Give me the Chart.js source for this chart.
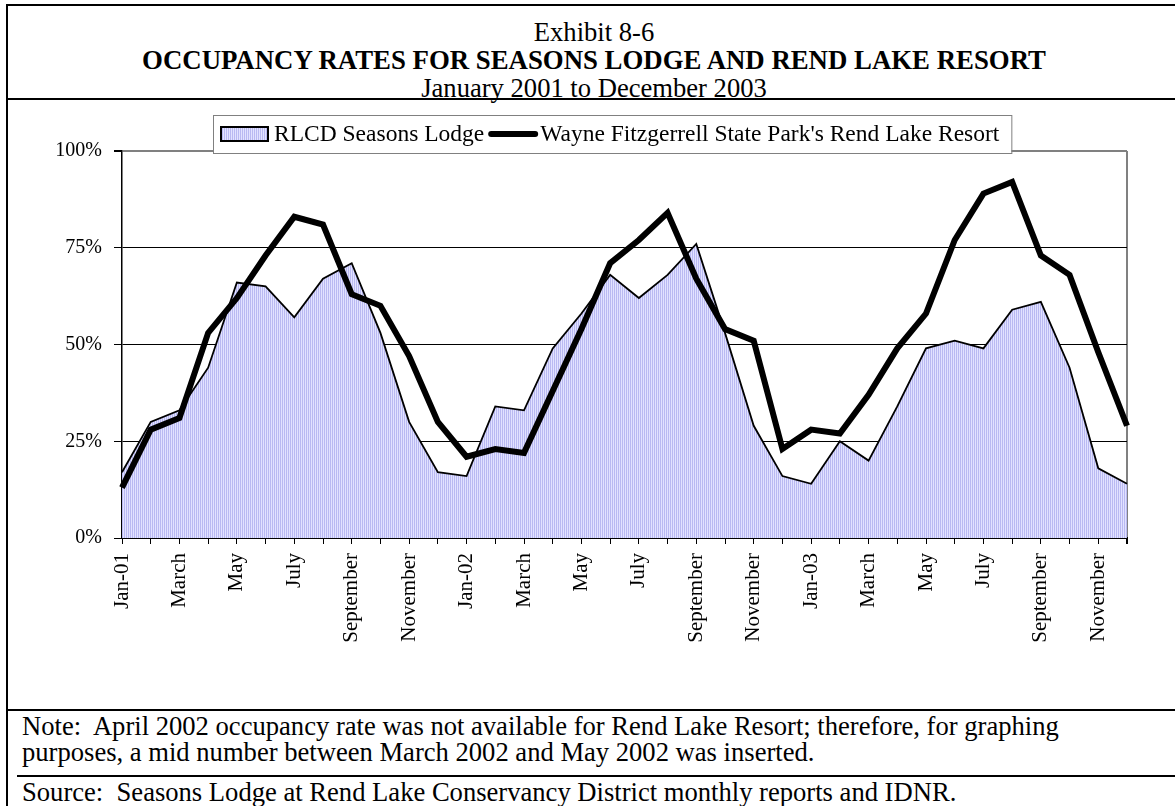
<!DOCTYPE html>
<html>
<head>
<meta charset="UTF-8">
<title>Exhibit 8-6</title>
<script src="https://cdn.jsdelivr.net/npm/chart.js"></script>
<style>
	html, body { margin: 0; padding: 0; width: 1175px; height: 806px; overflow: hidden; background: #fff; }
	body { position: relative; font-family: 'Liberation Serif', 'Times New Roman', serif; color: #000; }
	#frame { position: absolute; left: 6px; top: 4px; width: 1200px; height: 830px; border-top: 2px solid #000; border-left: 2px solid #000; }
	.rule { position: absolute; height: 2px; background: #000; width: 1200px; }
	#head { position: absolute; left: 8px; width: 1172px; top: 18px; text-align: center; font-size: 26.6px; line-height: 28px; }
	#head b { font-size: 26.8px; }
	#note, #source { position: absolute; left: 22px; font-size: 26.6px; line-height: 26px; white-space: pre; }
	#chartBox { position: absolute; left: 0; top: 100px; width: 1175px; height: 609px; }
</style>
</head>
<body>
	<div id="frame"></div>
	<div id="head">Exhibit 8-6<br><b>OCCUPANCY RATES FOR SEASONS LODGE AND REND LAKE RESORT</b><br>January 2001 to December 2003</div>
	<div class="rule" style="left:6px; top:98px;"></div>

	<div id="chartBox"><canvas id="occChart" width="1175" height="609"></canvas></div>

	<div class="rule" style="left:6px; top:709px;"></div>
	<div id="note" style="top:713px;">Note:  April 2002 occupancy rate was not available for Rend Lake Resort; therefore, for graphing
purposes, a mid number between March 2002 and May 2002 was inserted.</div>
	<div class="rule" style="left:17px; top:775px;"></div>
	<div id="source" style="top:779px;">Source:  Seasons Lodge at Rend Lake Conservancy District monthly reports and IDNR.</div>

	<script>
		// 월별 카테고리 (라벨은 격월로만 표시)
		const months = [
			'Jan-01', 'February', 'March', 'April', 'May', 'June', 'July', 'August', 'September', 'October', 'November', 'December',
			'Jan-02', 'February', 'March', 'April', 'May', 'June', 'July', 'August', 'September', 'October', 'November', 'December',
			'Jan-03', 'February', 'March', 'April', 'May', 'June', 'July', 'August', 'September', 'October', 'November', 'December'
		];

		// RLCD Seasons Lodge (%)
		const lodgeRates = [
			17, 30, 33, 44, 66, 65, 57, 67, 71, 53, 30, 17,
			16, 34, 33, 49, 58, 68, 62, 68, 76, 53, 29, 16,
			14, 25, 20, 34, 49, 51, 49, 59, 61, 44, 18, 14
		];

		// Wayne Fitzgerrell State Park's Rend Lake Resort (%)
		const resortRates = [
			13, 28, 31, 53, 62, 73, 83, 81, 63, 60, 47, 30,
			21, 23, 22, 38, 54, 71, 77, 84, 67, 54, 51, 23,
			28, 27, 37, 49, 58, 77, 89, 92, 73, 68, 48, 29
		];

		const yTicks = [0, 25, 50, 75, 100];

		const serif = "'Liberation Serif', 'Times New Roman', serif";
		const legendFont = '23.5px ' + serif;

		// 세로 줄무늬 패턴 (엑셀 영역 채우기 느낌)
		function makeStripes(){
			const c = document.createElement('canvas');
			c.width = 2; c.height = 4;
			const p = c.getContext('2d');
			p.fillStyle = '#b9b9f2';
			p.fillRect(0, 0, 1, 4);
			p.fillStyle = '#e2e2ff';
			p.fillRect(1, 0, 1, 4);
			return p.createPattern(c, 'repeat');
		}
		const stripes = makeStripes();

		// 테두리 있는 범례를 직접 그림
		const boxLegend = {
			id: 'boxLegend',
			afterDraw(chart){
				const ctx = chart.ctx;
				const sets = chart.data.datasets;
				ctx.save();
				ctx.font = legendFont;
				const t1 = ctx.measureText(sets[0].label).width;
				const t2 = ctx.measureText(sets[1].label).width;
				const x0 = 213, y0 = 15, h = 38;
				const w = 8 + 47 + 6 + t1 + 4 + 50 + 2 + t2 + 12;
				const cy = y0 + h / 2;

				ctx.fillStyle = '#fff';
				ctx.fillRect(x0, y0, w, h);
				ctx.strokeStyle = '#808080';
				ctx.lineWidth = 1;
				ctx.strokeRect(x0 + 0.5, y0 + 0.5, w, h);

				// 영역 견본
				let x = x0 + 8;
				ctx.fillStyle = stripes;
				ctx.fillRect(x, cy - 7, 47, 14);
				ctx.strokeStyle = '#000';
				ctx.lineWidth = 2;
				ctx.strokeRect(x, cy - 7, 47, 14);
				x += 47 + 6;

				ctx.font = legendFont;
				ctx.fillStyle = '#000';
				ctx.textAlign = 'left';
				ctx.textBaseline = 'middle';
				ctx.fillText(sets[0].label, x, cy + 1);
				x += t1 + 4;

				// 선 견본
				ctx.lineWidth = 6;
				ctx.lineCap = 'round';
				ctx.beginPath();
				ctx.moveTo(x + 3, cy);
				ctx.lineTo(x + 47, cy);
				ctx.stroke();
				x += 50 + 2;

				ctx.font = legendFont;
				ctx.fillText(sets[1].label, x, cy + 1);
				ctx.restore();
			}
		};

		const ctx = document.getElementById('occChart').getContext('2d');
		new Chart(ctx, {
			type: 'line',
			data: {
				labels: months,
				datasets: [
					{
						label: 'RLCD Seasons Lodge',
						data: lodgeRates,
						borderColor: '#000',
						borderWidth: 1.8,
						backgroundColor: stripes,
						fill: 'origin',
						pointRadius: 0,
						tension: 0,
						order: 1
					},
					{
						label: "Wayne Fitzgerrell State Park's Rend Lake Resort",
						data: resortRates,
						borderColor: '#000',
						borderWidth: 6,
						fill: false,
						pointRadius: 0,
						tension: 0,
						order: 0
					}
				]
			},
			options: {
				responsive: false,
				devicePixelRatio: 1,
				animation: false,
				layout: { padding: { top: 51, right: 48, left: 0, bottom: 0 } },
				plugins: {
					legend: { display: false },
					tooltip: { enabled: false }
				},
				scales: {
					x: {
						afterFit(scale){ scale.height = 171; },
						grid: {
							drawOnChartArea: true,
							color: (c) => c.index === months.length - 1 ? '#808080' : 'rgba(0,0,0,0)',
							lineWidth: (c) => c.index === months.length - 1 ? 2 : 1,
							tickColor: '#000',
							tickLength: 6
						},
						border: { color: '#000', width: 2 },
						ticks: {
							autoSkip: false,
							maxRotation: 90,
							minRotation: 90,
							padding: 9,
							color: '#000',
							font: { family: serif, size: 21 },
							callback: function(value, index){
								return index % 2 === 0 ? months[index] : '';
							}
						}
					},
					y: {
						min: 0,
						max: 100,
						afterFit(scale){ scale.width = 122; },
						afterBuildTicks(scale){ scale.ticks = yTicks.map(v => ({ value: v })); },
						grid: {
							color: (c) => c.tick && c.tick.value === 100 ? '#808080' : '#000',
							lineWidth: (c) => c.tick && c.tick.value === 100 ? 2 : 1,
							tickColor: '#000',
							tickLength: 8
						},
						border: { color: '#000', width: 1.5 },
						ticks: {
							padding: 12,
							color: '#000',
							font: { family: serif, size: 20 },
							callback: (v) => v + '%'
						}
					}
				}
			},
			plugins: [boxLegend]
		});
	</script>
</body>
</html>
